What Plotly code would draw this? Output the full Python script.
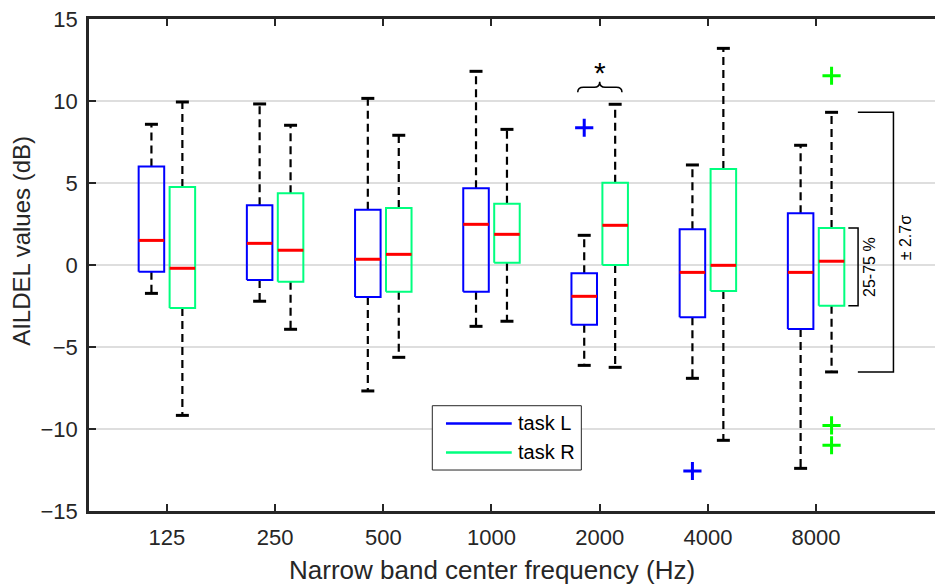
import plotly.graph_objects as go

# ---------------- data ----------------
freq_labels = ["125", "250", "500", "1000", "2000", "4000", "8000"]

L_whisk_hi = [8.58, 9.82, 10.16, 11.81, 1.81, 6.10, 7.30]
L_q3 = [6.00, 3.64, 3.37, 4.68, -0.51, 2.18, 3.15]
L_median = [1.50, 1.32, 0.35, 2.48, -1.91, -0.45, -0.45]
L_q1 = [-0.41, -0.91, -1.95, -1.63, -3.64, -3.19, -3.90]
L_whisk_lo = [-1.73, -2.21, -7.68, -3.74, -6.12, -6.91, -12.40]
L_out_group = [5, 6]
L_out_value = [8.37, -12.56]

R_whisk_hi = [9.94, 8.52, 7.91, 8.27, 9.80, 13.21, 9.31]
R_q3 = [4.76, 4.37, 3.48, 3.74, 5.02, 5.85, 2.26]
R_median = [-0.20, 0.90, 0.65, 1.87, 2.42, -0.02, 0.23]
R_q1 = [-2.62, -1.02, -1.63, 0.14, 0.00, -1.59, -2.48]
R_whisk_lo = [-9.17, -3.92, -5.63, -3.43, -6.24, -10.69, -6.52]
R_out_group = [7, 7, 7]
R_out_value = [11.54, -9.78, -10.99]

y_ticks = [-15, -10, -5, 0, 5, 10, 15]

# ---------------- style ----------------
BLUE = "#0000FF"
GREEN = "#00FF7F"
GREEN_OUT = "#00FF00"
RED = "#FF0000"
AX = "#262626"
FONT = "Liberation Sans, Arial, sans-serif"

OFFSET = 0.143
HALF_W = 0.118
CAP_HW = 0.06

fig = go.Figure()


def add_series(offset, hi, q3, med, q1, lo, og, ov, color, out_color):
    n = len(q3)
    bx, by, mx, my, wx, wy, cx, cy = [], [], [], [], [], [], [], []
    for i in range(n):
        c = i + 1 + offset
        bx += [c - HALF_W, c + HALF_W, c + HALF_W, c - HALF_W, c - HALF_W, None]
        by += [q1[i], q1[i], q3[i], q3[i], q1[i], None]
        mx += [c - HALF_W, c + HALF_W, None]
        my += [med[i], med[i], None]
        wx += [c, c, None, c, c, None]
        wy += [q3[i], hi[i], None, q1[i], lo[i], None]
        cx += [c - CAP_HW, c + CAP_HW, None, c - CAP_HW, c + CAP_HW, None]
        cy += [hi[i], hi[i], None, lo[i], lo[i], None]
    fig.add_trace(go.Scatter(x=wx, y=wy, mode="lines", showlegend=False,
                             line=dict(color="black", width=2.2, dash="8px,5px")))
    fig.add_trace(go.Scatter(x=cx, y=cy, mode="lines", showlegend=False,
                             line=dict(color="black", width=3)))
    fig.add_trace(go.Scatter(x=bx, y=by, mode="lines", showlegend=False,
                             line=dict(color=color, width=2)))
    fig.add_trace(go.Scatter(x=mx, y=my, mode="lines", showlegend=False,
                             line=dict(color=RED, width=3)))
    fig.add_trace(go.Scatter(x=[g + offset for g in og], y=ov, mode="markers", showlegend=False,
                             marker=dict(symbol="cross-thin", size=13,
                                         line=dict(color=out_color, width=3))))


add_series(-OFFSET, L_whisk_hi, L_q3, L_median, L_q1, L_whisk_lo, L_out_group, L_out_value, BLUE, BLUE)
add_series(OFFSET, R_whisk_hi, R_q3, R_median, R_q1, R_whisk_lo, R_out_group, R_out_value, GREEN, GREEN_OUT)

shapes = []
annotations = []

# significance brace over 2000 Hz
brace = ("M 4.797,10.53 Q 4.797,10.84 4.85,10.84 L 4.95,10.84 "
         "Q 5.0,10.84 5.0,11.18 Q 5.0,10.84 5.05,10.84 L 5.153,10.84 "
         "Q 5.206,10.84 5.206,10.53")
shapes.append(dict(type="path", path=brace, xref="x", yref="y",
                   line=dict(color="black", width=1.5)))
annotations.append(dict(x=5.0, y=11.75, xref="x", yref="y", text="*", showarrow=False,
                        font=dict(size=30, color="black", family=FONT)))

# explanation brackets next to 8000 Hz task R box
g = 6
bx0, bx1 = 7.298, 7.388
shapes.append(dict(type="path", xref="x", yref="y", line=dict(color="black", width=1.5),
                   path=f"M {bx0},{R_q3[g]} L {bx1},{R_q3[g]} L {bx1},{R_q1[g]} L {bx0},{R_q1[g]}"))
sx0, sx1 = 7.386, 7.715
shapes.append(dict(type="path", xref="x", yref="y", line=dict(color="black", width=1.5),
                   path=f"M {sx0},{R_whisk_hi[g]} L {sx1},{R_whisk_hi[g]} L {sx1},{R_whisk_lo[g]} L {sx0},{R_whisk_lo[g]}"))
annotations.append(dict(x=7.50, y=(R_q3[g] + R_q1[g]) / 2, xref="x", yref="y", text="25-75 %",
                        textangle=-90, showarrow=False,
                        font=dict(size=16, color="black", family=FONT)))
annotations.append(dict(x=7.83, y=1.68, xref="x", yref="y", text="± 2.7σ",
                        textangle=-90, showarrow=False,
                        font=dict(size=16, color="black", family=FONT)))

# legend (drawn manually)
shapes.append(dict(type="rect", xref="paper", yref="paper", x0=0.402, x1=0.5765, y0=0.0833, y1=0.214,
                   line=dict(color="#262626", width=1), fillcolor="white", layer="above"))
shapes.append(dict(type="line", xref="paper", yref="paper", x0=0.418, x1=0.495, y0=0.178, y1=0.178,
                   line=dict(color=BLUE, width=2.5)))
shapes.append(dict(type="line", xref="paper", yref="paper", x0=0.418, x1=0.495, y0=0.119, y1=0.119,
                   line=dict(color=GREEN, width=2.5)))
annotations.append(dict(x=0.5, y=0.178, xref="paper", yref="paper", text="task L", showarrow=False,
                        xanchor="left", yanchor="middle", font=dict(size=20, color="black", family=FONT)))
annotations.append(dict(x=0.5, y=0.119, xref="paper", yref="paper", text="task R", showarrow=False,
                        xanchor="left", yanchor="middle", font=dict(size=20, color="black", family=FONT)))

# axis titles as annotations (placed like the reference)
annotations.append(dict(x=0.472, y=-0.155, xref="paper", yref="paper",
                        text="Narrow band center frequency (Hz)", showarrow=False,
                        xanchor="center", yanchor="bottom",
                        font=dict(size=26, color=AX, family=FONT)))
annotations.append(dict(x=-0.0785, y=0.549, xref="paper", yref="paper",
                        text="AILDEL values (dB)", showarrow=False, textangle=-90,
                        xanchor="center", yanchor="middle",
                        font=dict(size=24, color=AX, family=FONT)))

# page body has an 8px margin: compensate so the plot area sits where the reference has it
fig.update_layout(
    width=935, height=576,
    margin=dict(l=81, r=0, t=11, b=73, autoexpand=False),
    plot_bgcolor="white", paper_bgcolor="white",
    font=dict(family=FONT, size=22, color=AX),
    shapes=shapes, annotations=annotations,
    showlegend=False,
)
fig.update_xaxes(range=[0.28, 8.173], tickvals=list(range(1, len(freq_labels) + 1)), ticktext=freq_labels,
                 showgrid=False, zeroline=False, showline=True, linecolor=AX, linewidth=2.5,
                 mirror="ticks", ticks="inside", ticklen=7, tickwidth=1.5, tickcolor=AX,
                 tickfont=dict(size=22, color=AX, family=FONT), ticklabelstandoff=5,
                 automargin=False)
fig.update_yaxes(range=[-15, 15], tickvals=y_ticks, showgrid=True, gridcolor="#dedede", gridwidth=1.5,
                 zeroline=False, showline=True, linecolor=AX, linewidth=2.5,
                 ticks="inside", ticklen=7, tickwidth=1.5, tickcolor=AX,
                 tickfont=dict(size=22, color=AX, family=FONT), ticklabelstandoff=4,
                 ticklabeloverflow="allow", automargin=False)

fig.write_html("out.html")
